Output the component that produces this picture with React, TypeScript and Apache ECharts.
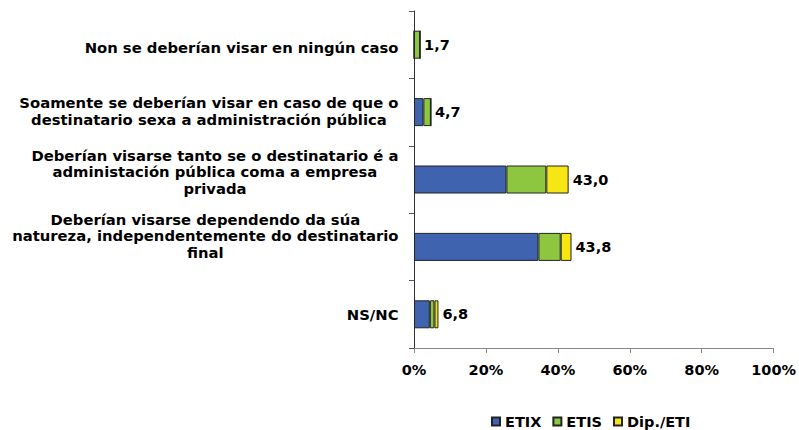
import React, { useEffect, useRef } from "react";
import * as echarts from "echarts";

const categories = [
  "Non se deberían visar en ningún caso",
  "Soamente se deberían visar en caso de que o\ndestinatario sexa a administración pública",
  "Deberían visarse tanto se o destinatario é a\nadministación pública coma a empresa\nprivada",
  "Deberían visarse dependendo da súa\nnatureza, independentemente do destinatario\nfinal",
  "NS/NC",
];
const etix = [0, 2.6, 25.7, 34.6, 4.4];
const etis = [1.7, 2.1, 11.1, 6.2, 1.3];
const dip = [0, 0, 6.2, 3.0, 1.1];
const totals = ["1,7", "4,7", "43,0", "43,8", "6,8"];
const xTicks = ["0%", "20%", "40%", "60%", "80%", "100%"];

// layout only: spacer below (positive) or above (negative) each category label
const labelLift = [-6, 2, 16, 22, 0];

const FONT = "DejaVu Sans, Verdana, sans-serif";
const FS = 14.5;
const CFS = 14.8;

function measure(text: string): number {
  const c = document.createElement("canvas").getContext("2d");
  if (!c) return text.length * 9;
  c.font = `bold ${CFS}px ${FONT}`;
  return c.measureText(text).width;
}

export default function App() {
  const ref = useRef<HTMLDivElement>(null);
  useEffect(() => {
    document.body.style.margin = "0";
    if (!ref.current) return;
    const chart = echarts.init(ref.current, null, { renderer: "svg" });
    const rich: Record<string, any> = {};
    categories.forEach((c, i) => {
      const w = Math.max(...c.split("\n").map(measure)) + 1;
      rich["c" + i] = {
        width: w,
        align: "center",
        fontWeight: "bold",
        fontSize: CFS,
        fontFamily: FONT,
        color: "#000",
        lineHeight: 16.5,
      };
      const h = Math.abs(labelLift[i]);
      rich["s" + i] = { width: 1, height: h, lineHeight: h, fontSize: 1 };
    });
    const totalNum = etix.map((v, i) => v + etis[i] + dip[i]);
    const itemStyle = (color: string) => ({ color, borderColor: "#222", borderWidth: 1 });
    chart.setOption({
      animation: false,
      grid: { left: 414, right: 23, top: 11, bottom: 82, containLabel: false },
      legend: {
        data: ["ETIX", "ETIS", "Dip./ETI"],
        left: 491,
        top: 414,
        padding: 0,
        itemWidth: 8,
        itemHeight: 8,
        itemGap: 11,
        icon: "rect",
        textStyle: { fontWeight: "bold", fontSize: FS, fontFamily: FONT, color: "#000" },
      },
      xAxis: {
        type: "value",
        min: 0,
        max: 100,
        interval: 20,
        axisLine: { show: true, lineStyle: { color: "#888", width: 1 } },
        axisTick: { show: true, length: 5, lineStyle: { color: "#888" } },
        splitLine: { show: false },
        axisLabel: {
          margin: 14,
          formatter: (v: number) => xTicks[Math.round(v / 20)],
          fontWeight: "bold",
          fontSize: FS,
          fontFamily: FONT,
          color: "#000",
        },
      },
      yAxis: {
        type: "category",
        inverse: true,
        data: categories,
        axisLine: { show: true, lineStyle: { color: "#333", width: 1 } },
        axisTick: { show: true, length: 5, alignWithLabel: false, lineStyle: { color: "#555" } },
        axisLabel: {
          margin: 15,
          formatter: (v: string, i: number) => {
            const body = v.split("\n").map((l) => `{c${i}|${l}}`).join("\n");
            if (labelLift[i] > 0) return body + `\n{s${i}| }`;
            if (labelLift[i] < 0) return `{s${i}| }\n` + body;
            return body;
          },
          rich,
        },
      },
      series: [
        { name: "ETIX", type: "bar", stack: "t", data: etix, barWidth: 28, itemStyle: itemStyle("#3F63AE") },
        { name: "ETIS", type: "bar", stack: "t", data: etis, barWidth: 28, itemStyle: itemStyle("#8DC63F") },
        { name: "Dip./ETI", type: "bar", stack: "t", data: dip, barWidth: 28, itemStyle: itemStyle("#F5E614") },
        {
          name: "total",
          type: "bar",
          data: totalNum,
          barWidth: 28,
          barGap: "-100%",
          z: 1,
          itemStyle: { color: "transparent" },
          silent: true,
          label: {
            show: true,
            position: "right",
            distance: 4,
            formatter: (p: any) => totals[p.dataIndex],
            fontWeight: "bold",
            fontSize: FS,
            fontFamily: FONT,
            color: "#000",
          },
        },
      ],
    });
    return () => chart.dispose();
  }, []);
  return <div ref={ref} style={{ width: 799, height: 430 }} />;
}
